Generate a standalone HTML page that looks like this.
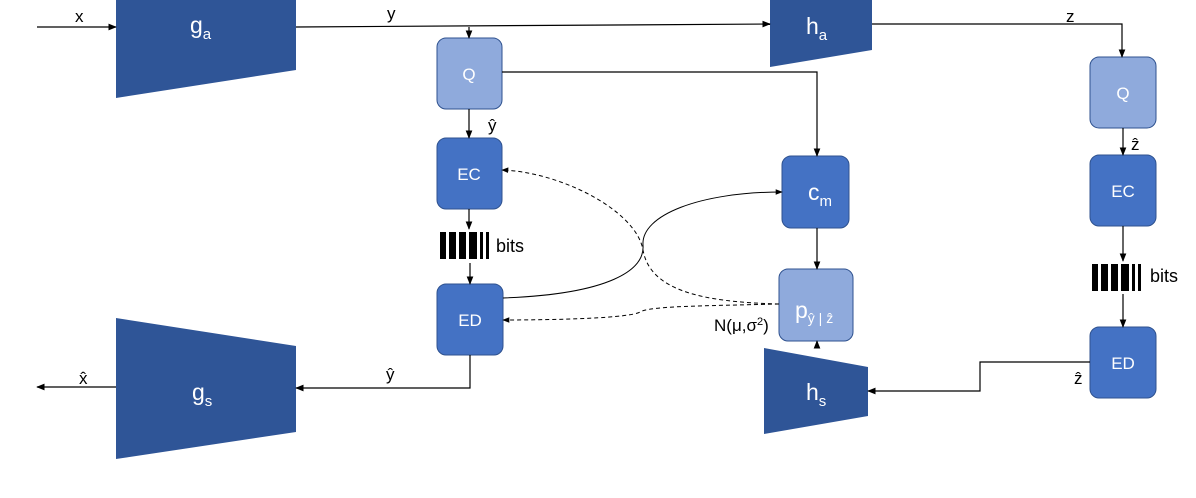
<html><head><style>
body{margin:0;width:1196px;height:498px;background:#fff;overflow:hidden;font-family:"Liberation Sans",sans-serif}
</style></head><body>
<svg width="1196" height="498" viewBox="0 0 1196 498" xmlns="http://www.w3.org/2000/svg" font-family="Liberation Sans, sans-serif">
<defs>
<marker id="a" viewBox="0 0 10 10" refX="9" refY="5" markerWidth="7" markerHeight="7" orient="auto-start-reverse"><path d="M0,1 L10,5 L0,9z" fill="#000"/></marker>
</defs>
<g fill="#2F5597">
<polygon points="116,0 296,0 296,70 116,98"/>
<polygon points="770,0 872,0 872,50 770,67"/>
<polygon points="116,318 296,346 296,432 116,459"/>
<polygon points="764,348 868,367 868,416 764,434"/>
</g>
<g fill="#fff" font-size="23">
<text x="190" y="33">g<tspan font-size="15" dy="6">a</tspan></text>
<text x="806" y="34">h<tspan font-size="15" dy="6">a</tspan></text>
<text x="192" y="400">g<tspan font-size="15" dy="6">s</tspan></text>
<text x="806" y="400">h<tspan font-size="15" dy="6">s</tspan></text>
</g>
<g stroke="#2F528F" stroke-width="1">
<rect x="437" y="38" width="65" height="71" rx="9" fill="#8FAADC"/>
<rect x="1090" y="57" width="66" height="71" rx="9" fill="#8FAADC"/>
<rect x="437" y="138" width="65" height="71" rx="9" fill="#4472C4"/>
<rect x="437" y="284" width="66" height="71" rx="9" fill="#4472C4"/>
<rect x="782" y="156" width="67" height="72" rx="9" fill="#4472C4"/>
<rect x="779" y="269" width="74" height="72" rx="9" fill="#8FAADC"/>
<rect x="1090" y="155" width="66" height="71" rx="9" fill="#4472C4"/>
<rect x="1090" y="327" width="66" height="71" rx="9" fill="#4472C4"/>
</g>
<g fill="#fff" font-size="17" text-anchor="middle">
<text x="469" y="80">Q</text><text x="1123" y="99">Q</text>
<text x="469" y="180">EC</text><text x="470" y="326">ED</text>
<text x="1123" y="197">EC</text><text x="1123" y="369">ED</text>
<text x="808" y="200" font-size="23" text-anchor="start">c<tspan font-size="15" dy="6">m</tspan></text>
<text x="795" y="318" font-size="23" text-anchor="start">p<tspan font-size="14" dy="5">ŷ | ẑ</tspan></text>
</g>
<g stroke="#000" stroke-width="1.2" fill="none">
<line x1="37" y1="27" x2="116" y2="27" marker-end="url(#a)"/>
<line x1="296" y1="27" x2="770" y2="24" marker-end="url(#a)"/>
<line x1="469" y1="27" x2="469" y2="38" marker-end="url(#a)"/>
<polyline points="872,24 1122,24 1122,57" marker-end="url(#a)"/>
<line x1="469" y1="109" x2="469" y2="138" marker-end="url(#a)"/>
<line x1="469" y1="209" x2="469" y2="229" marker-end="url(#a)"/>
<line x1="470" y1="263" x2="470" y2="284" marker-end="url(#a)"/>
<polyline points="502,72 817,72 817,156" marker-end="url(#a)"/>
<line x1="817" y1="228" x2="817" y2="269" marker-end="url(#a)"/>
<line x1="817" y1="348" x2="817" y2="341" marker-end="url(#a)"/>
<line x1="1123" y1="128" x2="1123" y2="155" marker-end="url(#a)"/>
<line x1="1123" y1="226" x2="1123" y2="261" marker-end="url(#a)"/>
<line x1="1123" y1="294" x2="1123" y2="327" marker-end="url(#a)"/>
<polyline points="1090,362 980,362 980,391 868,391" marker-end="url(#a)"/>
<polyline points="470,355 470,388 296,388" marker-end="url(#a)"/>
<line x1="116" y1="387" x2="37" y2="387" marker-end="url(#a)"/>
<path d="M503,298 C610,294 645,270 643,245 C641,215 700,192 782,192" marker-end="url(#a)" stroke-width="1"/>
<path d="M779,304 C700,302 650,290 643,250 C636,210 560,172 502,170" stroke-dasharray="4,3" marker-end="url(#a)" stroke-width="1"/>
<path d="M779,304 C700,306 650,306 640,312 C630,318 560,320 503,320" stroke-dasharray="4,3" marker-end="url(#a)" stroke-width="1"/>
</g>
<g fill="#000">
<rect x="440" y="232" width="6" height="27"/><rect x="449" y="232" width="7" height="27"/><rect x="459" y="232" width="7" height="27"/><rect x="469" y="232" width="8" height="27"/><rect x="480" y="232" width="3" height="27"/><rect x="486" y="232" width="3" height="27"/>
<rect x="1092" y="264" width="6" height="27"/><rect x="1101" y="264" width="7" height="27"/><rect x="1111" y="264" width="7" height="27"/><rect x="1121" y="264" width="8" height="27"/><rect x="1132" y="264" width="3" height="27"/><rect x="1138" y="264" width="3" height="27"/>
</g>
<g fill="#000" font-size="17">
<text x="75" y="22">x</text><text x="387" y="19">y</text><text x="1066" y="22">z</text>
<text x="488" y="131">ŷ</text><text x="1131" y="150">ẑ</text>
<text x="496" y="252" font-size="18">bits</text><text x="1150" y="282" font-size="18">bits</text>
<text x="714" y="331">N(μ,σ<tspan font-size="11" dy="-6">2</tspan><tspan dy="6">)</tspan></text>
<text x="1074" y="384">ẑ</text><text x="386" y="380">ŷ</text><text x="79" y="384">x̂</text>
</g>
</svg>
</body></html>
